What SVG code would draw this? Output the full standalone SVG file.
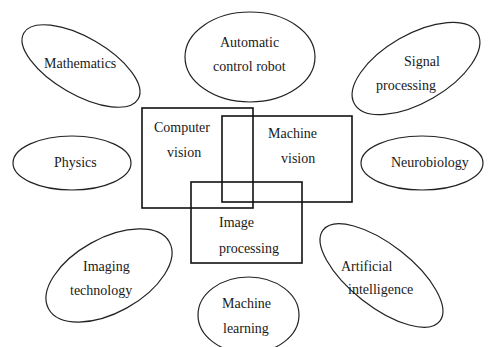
<svg xmlns="http://www.w3.org/2000/svg" width="493" height="347" viewBox="0 0 493 347">
  <style>
    .oval { fill: none; stroke: #222; stroke-width: 1.2; }
    .box { fill: none; stroke: #111; stroke-width: 1.6; }
    .lbl { font-family: 'Times New Roman', Tinos, 'Liberation Serif', 'Noto Serif', 'DejaVu Serif', serif; font-size: 14px; fill: #1a1a1a; }
  </style>
  <rect width="493" height="347" fill="#fff"/>

  <!-- surrounding disciplines -->
  <g id="mathematics">
    <ellipse class="oval" cx="81" cy="66" rx="66" ry="28.5" transform="rotate(30 81 66)"/>
    <text class="lbl" x="44" y="68">Mathematics</text>
  </g>
  <g id="automatic-control-robot">
    <ellipse class="oval" cx="250" cy="57" rx="65" ry="45"/>
    <text class="lbl" x="220" y="47">Automatic</text>
    <text class="lbl" x="213" y="71">control robot</text>
  </g>
  <g id="signal-processing">
    <ellipse class="oval" cx="416" cy="68.5" rx="71" ry="34" transform="rotate(-30 416 68.5)"/>
    <text class="lbl" x="404" y="66">Signal</text>
    <text class="lbl" x="376" y="90">processing</text>
  </g>
  <g id="physics">
    <ellipse class="oval" cx="72" cy="163" rx="59" ry="27"/>
    <text class="lbl" x="54" y="167">Physics</text>
  </g>
  <g id="neurobiology">
    <ellipse class="oval" cx="422" cy="163" rx="61" ry="27"/>
    <text class="lbl" x="391" y="167">Neurobiology</text>
  </g>
  <g id="imaging-technology">
    <ellipse class="oval" cx="109" cy="275.5" rx="69" ry="37" transform="rotate(-29 109 275.5)"/>
    <text class="lbl" x="83" y="271">Imaging</text>
    <text class="lbl" x="70" y="295">technology</text>
  </g>
  <g id="machine-learning">
    <ellipse class="oval" cx="248.5" cy="315" rx="50.5" ry="38"/>
    <text class="lbl" x="222" y="308">Machine</text>
    <text class="lbl" x="223" y="333">learning</text>
  </g>
  <g id="artificial-intelligence">
    <ellipse class="oval" cx="381.5" cy="275.5" rx="74" ry="31" transform="rotate(38 381.5 275.5)"/>
    <text class="lbl" x="341" y="271">Artificial</text>
    <text class="lbl" x="348" y="294">intelligence</text>
  </g>

  <!-- overlapping core fields -->
  <g id="computer-vision">
    <rect class="box" x="142" y="108" width="111" height="100"/>
    <text class="lbl" x="154" y="132">Computer</text>
    <text class="lbl" x="167" y="157">vision</text>
  </g>
  <g id="machine-vision">
    <rect class="box" x="222" y="116" width="130" height="86"/>
    <text class="lbl" x="268" y="138">Machine</text>
    <text class="lbl" x="281" y="163">vision</text>
  </g>
  <g id="image-processing">
    <rect class="box" x="191" y="182" width="111" height="81"/>
    <text class="lbl" x="219" y="227">Image</text>
    <text class="lbl" x="219" y="253">processing</text>
  </g>

  <g id="connectors"></g>
</svg>
